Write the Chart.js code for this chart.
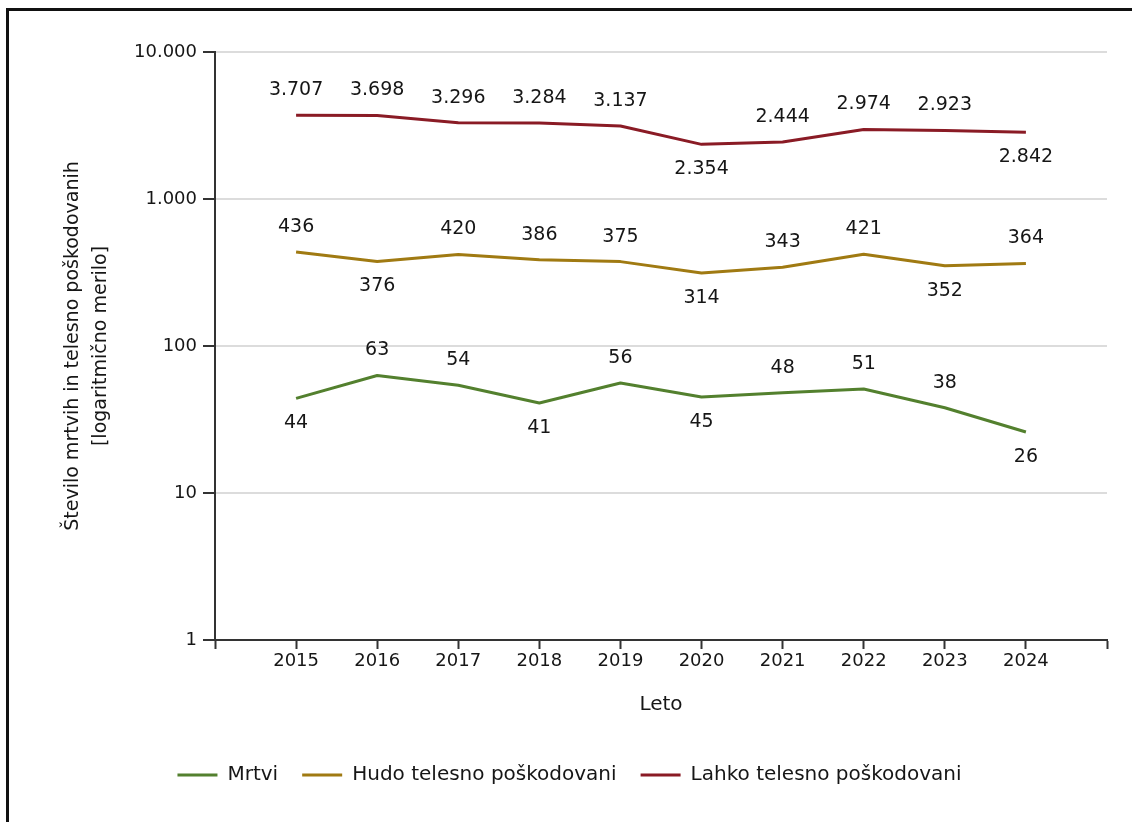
<!DOCTYPE html>
<html>
<head>
<meta charset="utf-8">
<script src="https://cdn.jsdelivr.net/npm/chart.js@4/dist/chart.umd.min.js"></script>
<style>
html,body{margin:0;padding:0;background:#fff;overflow:hidden;width:1132px;height:822px;}
#wrap{position:relative;width:1132px;height:822px;}
canvas{position:absolute;left:0;top:0;}
#frame{position:absolute;left:6px;top:8px;width:1400px;height:1000px;border:3px solid #111;box-sizing:border-box;pointer-events:none;}
</style>
</head>
<body>
<div id="wrap"><canvas id="c" width="1132" height="822"></canvas><div id="frame"></div></div>
<script>
// ---- data ----
const years = ['2015','2016','2017','2018','2019','2020','2021','2022','2023','2024'];
const mrtvi = [44, 63, 54, 41, 56, 45, 48, 51, 38, 26];
const hudo  = [436, 376, 420, 386, 375, 314, 343, 421, 352, 364];
const lahko = [3707, 3698, 3296, 3284, 3137, 2354, 2444, 2974, 2923, 2842];
const yTickValues = [1, 10, 100, 1000, 10000];
const seriesNames = ['Mrtvi', 'Hudo telesno poškodovani', 'Lahko telesno poškodovani'];
const yTitle = ['Število mrtvih in telesno poškodovanih', '[logaritmično merilo]'];
const xTitle = 'Leto';
// label placement: a = above, b = below
const mrtviSides = ['b','a','a','b','a','b','a','a','a','b'];
const hudoSides  = ['a','b','a','a','a','b','a','a','b','a'];
const lahkoSides = ['a','a','a','a','a','b','a','a','a','b'];

const fmt = n => String(n).replace(/\B(?=(\d{3})+(?!\d))/g, '.');
const toPoints = arr => arr.map((v, i) => ({ x: i + 1, y: v }));

Chart.defaults.font.family = "'DejaVu Sans', sans-serif";
Chart.defaults.color = '#161616';

const valueLabels = {
  id: 'valueLabels',
  afterDatasetsDraw(chart) {
    const ctx = chart.ctx;
    ctx.save();
    ctx.font = "19px 'DejaVu Sans', sans-serif";
    ctx.fillStyle = '#161616';
    ctx.textAlign = 'center';
    ctx.textBaseline = 'middle';
    chart.data.datasets.forEach((ds, di) => {
      const meta = chart.getDatasetMeta(di);
      meta.data.forEach((pt, j) => {
        const dir = ds.labelSides[j] === 'b' ? 1 : -1;
        ctx.fillText(fmt(ds.data[j].y), pt.x, pt.y + dir * 25);
      });
    });
    ctx.restore();
  }
};

const common = { borderWidth: 3, pointRadius: 0, pointHoverRadius: 0, tension: 0, fill: false, borderJoinStyle: 'round', borderCapStyle: 'butt' };

new Chart(document.getElementById('c'), {
  type: 'line',
  data: {
    datasets: [
      Object.assign({ label: seriesNames[0], data: toPoints(mrtvi), borderColor: '#53802e', backgroundColor: '#53802e', labelSides: mrtviSides }, common),
      Object.assign({ label: seriesNames[1], data: toPoints(hudo), borderColor: '#a07a12', backgroundColor: '#a07a12', labelSides: hudoSides }, common),
      Object.assign({ label: seriesNames[2], data: toPoints(lahko), borderColor: '#8a1b25', backgroundColor: '#8a1b25', labelSides: lahkoSides }, common)
    ]
  },
  options: {
    responsive: false,
    animation: false,
    devicePixelRatio: 1,
    events: [],
    layout: { padding: { left: 32, right: 25, top: 52, bottom: 27 } },
    plugins: {
      tooltip: { enabled: false },
      legend: {
        position: 'bottom',
        labels: {
          usePointStyle: true,
          pointStyle: 'line',
          pointStyleWidth: 40,
          padding: 24,
          color: '#161616',
          font: { size: 20 }
        }
      }
    },
    scales: {
      x: {
        type: 'linear',
        min: 0,
        max: years.length + 1,
        afterFit(scale) { scale.height = 101; },
        ticks: {
          stepSize: 1,
          autoSkip: false,
          maxRotation: 0,
          padding: 2,
          color: '#161616',
          font: { size: 18 },
          callback: v => years[v - 1] || ''
        },
        grid: { drawOnChartArea: false, drawTicks: true, tickLength: 9, tickColor: '#333', tickWidth: 2 },
        border: { display: true, color: '#333', width: 2 },
        title: { display: true, text: xTitle, color: '#161616', font: { size: 20 }, padding: { top: 0, bottom: 24 } }
      },
      y: {
        type: 'logarithmic',
        min: 1,
        max: 10000,
        afterFit(scale) { scale.width = 215 - 32; },
        afterBuildTicks(scale) { scale.ticks = yTickValues.map(v => ({ value: v })); },
        ticks: {
          padding: 6,
          color: '#161616',
          font: { size: 18 },
          callback: v => fmt(v)
        },
        grid: { color: '#dcdcdc', lineWidth: 2, drawTicks: true, tickLength: 12, tickColor: '#333', tickWidth: 2 },
        border: { display: true, color: '#333', width: 2 },
        title: { display: true, text: yTitle, color: '#161616', font: { size: 19, lineHeight: 28 / 19 }, padding: { top: 27, bottom: 0 } }
      }
    }
  },
  plugins: [valueLabels]
});
</script>
</body>
</html>
